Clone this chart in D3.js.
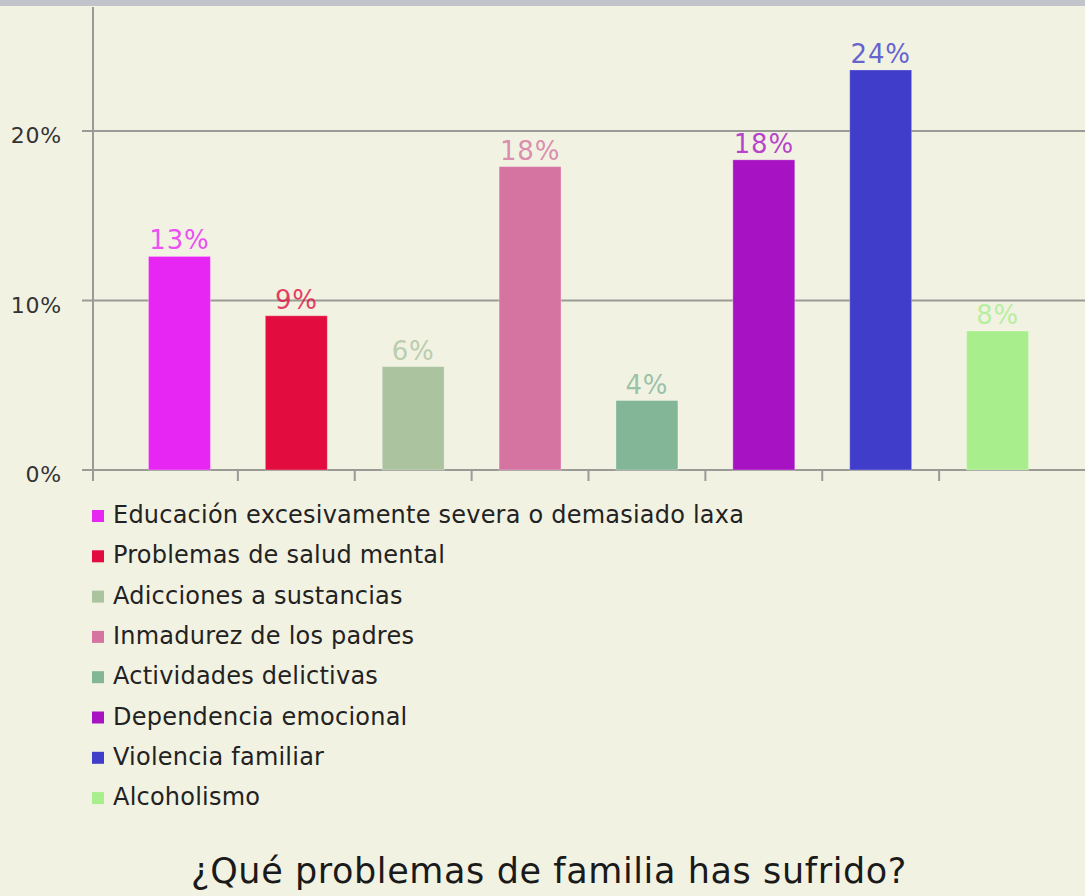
<!DOCTYPE html>
<html>
<head>
<meta charset="utf-8">
<script src="https://cdn.jsdelivr.net/npm/d3@7"></script>
<style>
  html, body { margin: 0; padding: 0; background: #f2f2e3; }
  svg { display: block; font-family: "DejaVu Sans", Verdana, sans-serif; }
</style>
</head>
<body>
<div id="chart"></div>
<script>
// Data
const categories = [
  'Educación excesivamente severa o demasiado laxa',
  'Problemas de salud mental',
  'Adicciones a sustancias',
  'Inmadurez de los padres',
  'Actividades delictivas',
  'Dependencia emocional',
  'Violencia familiar',
  'Alcoholismo'
];
const shares = [0.126, 0.091, 0.061, 0.179, 0.041, 0.183, 0.236, 0.082];
const colors = ['#e826f3', '#e20c3f', '#abc39f', '#d574a1', '#83b597', '#a713c3', '#3f3dc9', '#a8ee8c'];
const yTicks = [0, 0.1, 0.2];
const title = '¿Qué problemas de familia has sufrido?';

const width = 1085, height = 896;
const axisX = 93;

const svg = d3.select('#chart').append('svg')
  .attr('width', width)
  .attr('height', height);

svg.append('rect').attr('width', width).attr('height', height).attr('fill', '#f2f2e3');
// grey strip along the top edge
svg.append('rect').attr('width', width).attr('height', 6).attr('fill', '#c3c4cb');

const x = d3.scaleBand().domain(d3.range(categories.length)).range([121, 1056]).padding(0);
const barW = x.bandwidth() * 0.53;
const y = d3.scaleLinear().domain([0, 0.2]).range([470, 131]);

// gridlines + y ticks
const grid = svg.append('g');
grid.selectAll('line').data(yTicks).enter().append('line')
  .attr('x1', axisX - 11).attr('x2', width)
  .attr('y1', d => y(d)).attr('y2', d => y(d))
  .attr('stroke', '#9a9a96').attr('stroke-width', 2);

grid.selectAll('text').data(yTicks).enter().append('text')
  .attr('x', 62).attr('y', d => y(d) + 12)
  .attr('text-anchor', 'end')
  .attr('font-size', 22)
  .attr('letter-spacing', 0.8)
  .attr('fill', '#333')
  .text(d3.format('.0%'));

// y axis line
svg.append('line')
  .attr('x1', axisX).attr('x2', axisX)
  .attr('y1', 7).attr('y2', y(0) + 11)
  .attr('stroke', '#9a9a96').attr('stroke-width', 2);

// x ticks between categories
svg.append('g').selectAll('line').data(d3.range(1, categories.length)).enter().append('line')
  .attr('x1', d => x(d)).attr('x2', d => x(d))
  .attr('y1', y(0)).attr('y2', y(0) + 11)
  .attr('stroke', '#9a9a96').attr('stroke-width', 2);

// bars
svg.append('g').selectAll('rect').data(shares).enter().append('rect')
  .attr('x', (d, i) => x(i) + (x.bandwidth() - barW) / 2)
  .attr('y', d => y(d))
  .attr('width', barW)
  .attr('height', d => y(0) - y(d))
  .attr('fill', (d, i) => colors[i])
  .attr('stroke', '#ffffff').attr('stroke-opacity', 0.3).attr('stroke-width', 1);

// value labels
svg.append('g').selectAll('text').data(shares).enter().append('text')
  .attr('x', (d, i) => x(i) + x.bandwidth() / 2)
  .attr('y', d => y(d) - 7)
  .attr('text-anchor', 'middle')
  .attr('font-size', 26)
  .attr('letter-spacing', 0.8)
  .attr('fill', (d, i) => colors[i])
  .attr('fill-opacity', 0.8)
  .text(d => Math.round(d * 100) + '%');

// legend
const legend = svg.append('g').selectAll('g').data(categories).enter().append('g')
  .attr('transform', (d, i) => `translate(92, ${523 + i * 40.3})`);
legend.append('rect')
  .attr('x', 0).attr('y', -13).attr('width', 12).attr('height', 12)
  .attr('fill', (d, i) => colors[i]);
legend.append('text')
  .attr('x', 21).attr('y', 0)
  .attr('font-size', 24)
  .attr('letter-spacing', 0.22)
  .attr('fill', '#222')
  .text(d => d);

// title
svg.append('text')
  .attr('x', 549).attr('y', 883)
  .attr('text-anchor', 'middle')
  .attr('font-size', 35)
  .attr('letter-spacing', 0.6)
  .attr('fill', '#1a1a1a')
  .text(title);
</script>
</body>
</html>
